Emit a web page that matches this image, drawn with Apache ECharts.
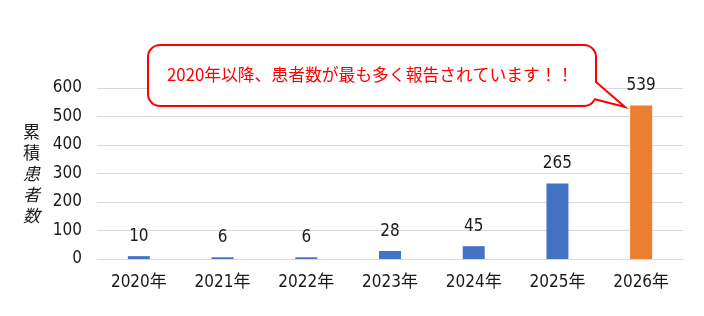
<!DOCTYPE html>
<html>
<head>
<meta charset="utf-8">
<script src="https://cdn.jsdelivr.net/npm/echarts@6/dist/echarts.min.js"></script>
<style>
html, body { margin: 0; padding: 0; background: #fff; }
#chart { width: 704px; height: 316px; }
</style>
</head>
<body>
<div id="chart"></div>
<script>
var years = ['2020年', '2021年', '2022年', '2023年', '2024年', '2025年', '2026年']
var patients = [10, 6, 6, 28, 45, 265, 539]
var yTicks = [0, 100, 200, 300, 400, 500, 600]
var calloutText = '2020年以降、患者数が最も多く報告されています！！'

var numFont = '"DejaVu Sans Condensed", "Noto Sans CJK JP", sans-serif'
var chart = echarts.init(document.getElementById('chart'))

var option = {
  animation: false,
  grid: { left: 97, right: 21, top: 88, bottom: 57 },
  xAxis: {
    type: 'category',
    data: years,
    axisTick: { show: false },
    axisLine: { lineStyle: { color: '#d9d9d9' } },
    axisLabel: { color: '#1a1a1a', fontSize: 17, fontFamily: numFont, margin: 15 }
  },
  yAxis: {
    type: 'value',
    min: yTicks[0],
    max: yTicks[yTicks.length - 1],
    interval: 100,
    axisLabel: { color: '#1a1a1a', fontSize: 17, fontFamily: numFont, margin: 15 },
    splitLine: { lineStyle: { color: '#d9d9d9' } },
    name: '{a|累}\n{a|積}\n{b|患}\n{b|者}\n{b|数}',
    nameLocation: 'middle',
    nameRotate: 0,
    nameGap: 57,
    nameTextStyle: {
      rich: {
        a: { fontSize: 17, lineHeight: 21, color: '#1a1a1a', fontFamily: '"Noto Sans CJK JP"' },
        b: { fontSize: 17, lineHeight: 21, color: '#1a1a1a', fontStyle: 'italic', fontFamily: '"Noto Sans CJK JP"' }
      }
    }
  },
  series: [{
    type: 'bar',
    barWidth: 22,
    data: patients.map(function (v, i) {
      return { value: v, itemStyle: { color: i === patients.length - 1 ? '#ed7d31' : '#4472c4' } }
    }),
    label: {
      show: true,
      position: 'top',
      distance: 11,
      color: '#1a1a1a',
      fontSize: 17,
      fontFamily: numFont
    }
  }],
  // 吹き出し
  graphic: [{
    type: 'rect',
    shape: { x: 148, y: 45, width: 448, height: 61, r: 12 },
    style: { fill: '#fff', stroke: '#ff0000', lineWidth: 2 },
    z: 100
  }, {
    type: 'polygon',
    shape: { points: [[590, 83], [597, 83], [625, 107], [590, 99]] },
    style: { fill: '#fff' },
    z: 101
  }, {
    type: 'polyline',
    shape: { points: [[596, 82], [625, 107], [594, 99]] },
    style: { stroke: '#ff0000', lineWidth: 2, fill: null },
    z: 102
  }, {
    type: 'text',
    left: 167,
    top: 66,
    style: {
      text: calloutText,
      fill: '#ff0000',
      fontSize: 16.8,
      fontFamily: '"Noto Sans CJK JP", sans-serif'
    },
    z: 103
  }]
}
chart.setOption(option)
</script>
</body>
</html>
